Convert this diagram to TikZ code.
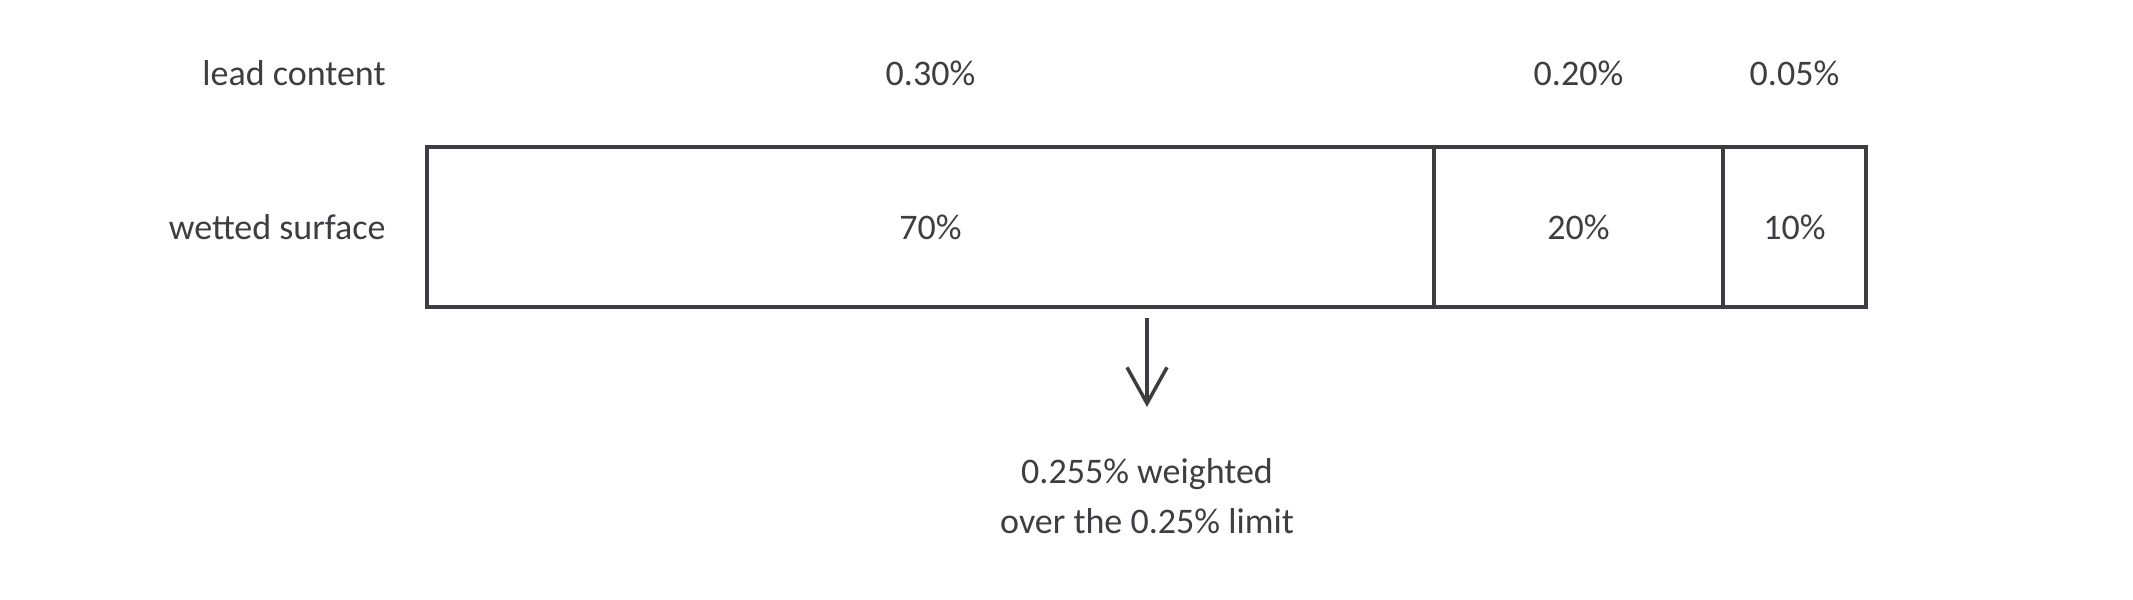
\documentclass[tikz,border=0pt]{standalone}
\usepackage{fontspec}
\setmainfont{Carlito}
\usepackage{tikz}
\usetikzlibrary{arrows.meta}
\usetikzlibrary{positioning}
\definecolor{ink}{RGB}{61,61,66}

\begin{document}
\begin{tikzpicture}[
		x=0.5pt,
		y=-0.5pt,
		font=\fontsize{18pt}{25pt}\selectfont,
		>={Straight Barb[length=18pt,width=20pt]},
		color=ink
	]
		\tikzset{share/.style={
			draw=ink,
			line width=2pt,
			inner sep=0,
			outer sep=0,
			minimum height=80pt,
		}}
		\tikzset{rowlabel/.style={anchor=east, inner sep=0}}

		\useasboundingbox (0,0) rectangle (2133,600);

		% the three parts of the surface
		\node[share, minimum width=503.5pt, anchor=north west] (seg70) at (427,147) {70\%};
		\node[share, minimum width=144.5pt, right=0pt of seg70] (seg20) {20\%};
		\node[share, minimum width=71.5pt, right=0pt of seg20] (seg10) {10\%};

		% lead content above each part
		\node (lead70) at (seg70 |- 0,73) {0.30\%};
		\node (lead20) at (seg20 |- 0,73) {0.20\%};
		\node (lead10) at (seg10 |- 0,73) {0.05\%};

		\node[rowlabel] (leadlbl) at (386,73) {lead content};
		\node[rowlabel] (wetlbl) at (386,0 |- seg70) {wetted surface};

		\node[align=center, inner sep=0] (result) at (1147,496) {0.255\% weighted\\over the 0.25\% limit};

		\draw[->, line width=1.75pt] ([yshift=-5.5pt]seg70.south -| result.north) -- ([yshift=25.5pt]result.north);
	\end{tikzpicture}
\end{document}
